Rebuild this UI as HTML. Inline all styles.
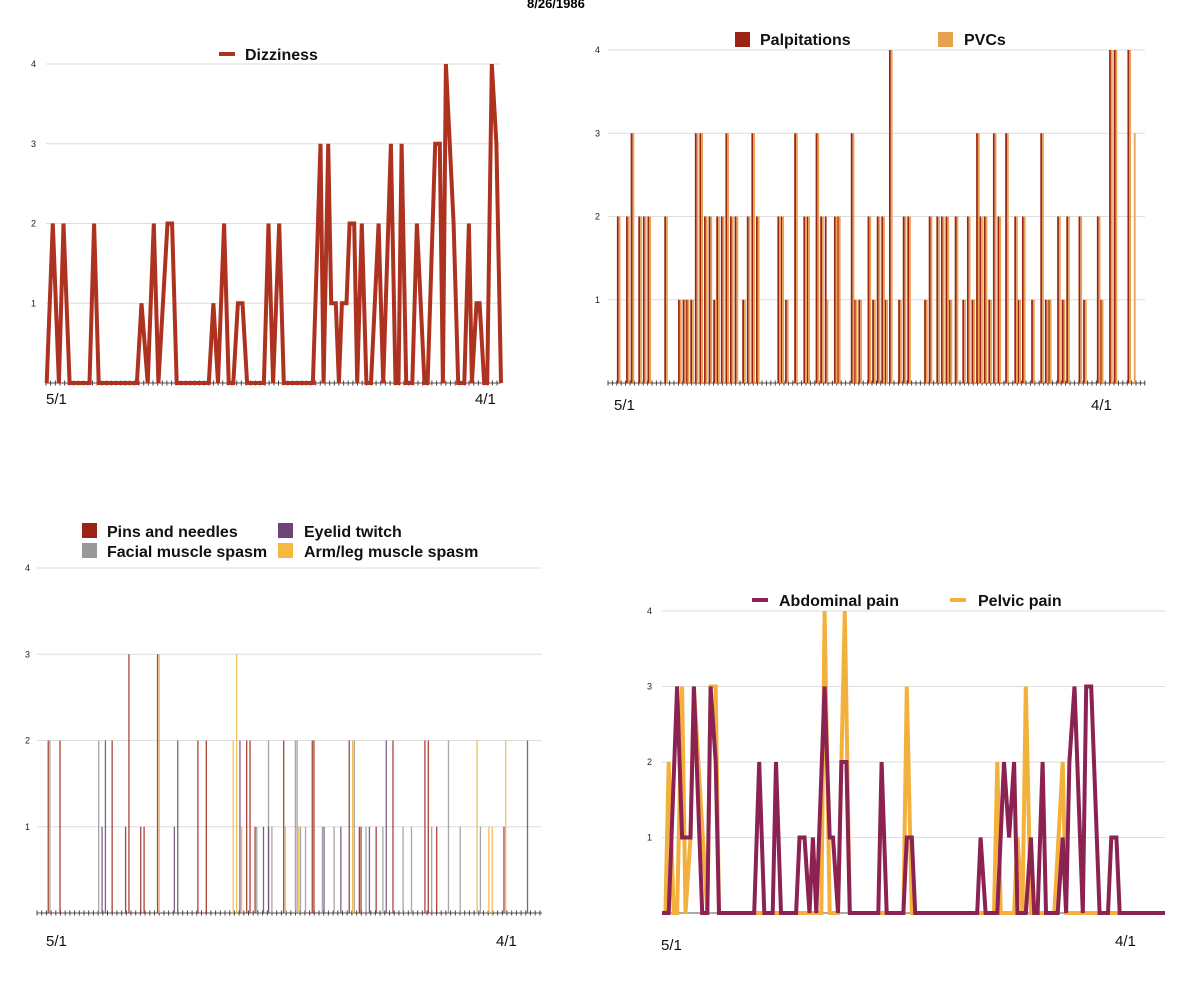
<!DOCTYPE html>
<html><head><meta charset="utf-8"><style>
html,body{margin:0;padding:0;background:#fff;}
svg{display:block;font-family:"Liberation Sans",Arial,sans-serif;}
.tk{font-size:9px;fill:#222;}
.xl{font-size:15px;fill:#111;}
.lg{font-size:16px;font-weight:bold;fill:#111;}
</style></head><body>
<svg id="root" width="1200" height="986" viewBox="0 0 1200 986">
<text x="527" y="8" font-size="13" font-weight="bold">8/26/1986</text>
<!-- legends -->
<g>
<line x1="219" y1="54" x2="235" y2="54" stroke="#ad321f" stroke-width="4"/>
<text x="245" y="60" class="lg">Dizziness</text></g>
<g>
<rect x="735" y="32" width="15" height="15" fill="#9c2416"/><text x="760" y="45" class="lg">Palpitations</text>
<rect x="938" y="32" width="15" height="15" fill="#e5a350"/><text x="964" y="45" class="lg">PVCs</text></g>
<g>
<rect x="82" y="523" width="15" height="15" fill="#9c2416"/><text x="107" y="537" class="lg">Pins and needles</text>
<rect x="278" y="523" width="15" height="15" fill="#6e4379"/><text x="304" y="537" class="lg">Eyelid twitch</text>
<rect x="82" y="543" width="15" height="15" fill="#999"/><text x="107" y="557" class="lg">Facial muscle spasm</text>
<rect x="278" y="543" width="15" height="15" fill="#f5b940"/><text x="304" y="557" class="lg">Arm/leg muscle spasm</text></g>
<g>
<line x1="752" y1="600" x2="768" y2="600" stroke="#8b2252" stroke-width="4"/><text x="779" y="606" class="lg">Abdominal pain</text>
<line x1="950" y1="600" x2="966" y2="600" stroke="#f4b03c" stroke-width="4"/><text x="978" y="606" class="lg">Pelvic pain</text></g>
</svg>
<script>
// ---- chart 1: dizziness ----
const dizDays=[0,4,8,11,15,28,31,34,59,62,66,70,73,79,82,85,106,109,112,116,119,122,125,128,131,142,145,148,152,155,174,179,181,184,186,189,191,193,196,198,201,203,206,209,212,217,220,225,228,230,232,235,239,242,247,249,254,257,259,261,266,269,273,276,278,281,283,286,288,291,294,297];
const dizVals=[0,2,0,2,0,0,2,0,0,1,0,2,0,2,2,0,0,1,0,2,0,0,1,1,0,0,2,0,2,0,0,3,0,3,1,1,0,1,1,2,2,0,2,0,0,2,0,3,0,0,3,0,0,2,0,0,3,3,0,4,2,0,0,2,0,1,1,0,0,4,3,0];
// ---- chart 2: palpitations / PVCs ----
const palpDays=[7,13,16,21,24,27,38,47,50,52,55,58,61,64,67,70,72,75,78,81,84,89,92,95,98,112,114,117,123,129,131,137,140,143,149,151,160,162,165,171,174,177,180,182,185,191,194,197,208,211,216,219,222,224,228,233,236,239,242,244,247,250,253,256,261,267,269,272,278,284,287,289,295,298,301,309,312,321,323,329,332,341,344];
const palpVals=[2,2,3,2,2,2,2,1,1,1,1,3,3,2,2,1,2,2,3,2,2,1,2,3,2,2,2,1,3,2,2,3,2,2,2,2,3,1,1,2,1,2,2,1,4,1,2,2,1,2,2,2,2,1,2,1,2,1,3,2,2,1,3,2,3,2,1,2,1,3,1,1,2,1,2,2,1,2,1,4,4,4,0];
const pvcVals=[2,2,3,2,2,2,2,1,1,1,1,3,3,2,2,1,2,2,3,2,2,1,2,3,2,2,2,1,3,2,2,3,2,1,2,2,3,1,1,2,1,2,2,1,4,1,2,2,1,2,2,2,2,1,2,1,2,1,3,2,2,1,3,2,3,2,1,2,1,3,1,1,2,1,2,2,1,2,1,4,4,4,3];
// ---- chart 3: spasms ----
const pinsDays=[6,13,44,52,54,61,63,71,95,100,124,126,129,146,163,164,185,191,192,201,211,230,232,237,277];
const pinsVals=[2,2,2,1,3,1,1,3,2,2,2,2,1,2,2,2,2,1,1,1,2,2,2,1,1];
const facialDays=[7,36,130,137,139,153,154,156,159,169,176,188,195,205,217,222,234,244,251,263];
const facialVals=[2,2,1,2,1,2,2,1,1,1,1,2,1,1,1,1,1,2,1,1];
const eyelidDays=[38,40,81,83,120,134,137,170,180,197,207,291];
const eyelidVals=[1,2,1,2,2,1,1,1,1,1,2,2];
const armDays=[72,116,118,121,147,155,187,261,268,270,278];
const armVals=[3,2,3,1,1,1,2,2,1,1,2];
// ---- chart 4: pain ----
const abdDays=[0,4,9,12,17,19,24,27,29,32,34,55,58,61,66,68,71,80,82,85,88,90,92,97,100,102,105,107,110,112,129,131,134,144,146,149,151,188,190,193,200,204,207,210,212,217,220,222,224,227,229,236,239,241,243,246,251,253,256,261,266,268,271,273,300];
const abdVals=[0,0,3,1,1,3,0,0,3,2,0,0,2,0,0,2,0,0,1,1,0,1,0,3,1,1,0,2,2,0,0,2,0,0,1,1,0,0,1,0,0,2,1,2,0,0,1,0,0,2,0,0,1,0,2,3,0,3,3,0,0,1,1,0,0];
const pelDays=[0,2,4,7,9,12,14,17,19,27,29,32,34,95,97,100,105,107,109,112,144,146,149,198,200,202,210,212,215,217,220,234,239,241,246,300];
const pelVals=[0,0,2,0,0,3,0,1,3,0,3,3,0,0,4,0,0,2,4,0,0,3,0,0,2,0,0,1,0,3,0,0,2,0,0,0];
const yTicks=["1","2","3","4"];

const NS="http://www.w3.org/2000/svg";
const root=document.getElementById('root');
function mk(tag,attrs,parent){const e=document.createElementNS(NS,tag);for(const k in attrs)e.setAttribute(k,attrs[k]);(parent||root).appendChild(e);return e;}
function lin(d0,d1,r0,r1){return v=>r0+(v-d0)/(d1-d0)*(r1-r0);}

function frame(name,x0,x1,yS,labX,tickStep,lbl){
  const g=mk('g',{});
  
  
  yTicks.forEach((t,i)=>{
    const y=yS(i+1);
    const l=mk('line',{x1:x0,x2:x1,y1:y,y2:y,stroke:'#dedede','stroke-width':1},g);
    
    
    const tx=mk('text',{x:labX,y:y+3,class:'tk','text-anchor':'end'},g);
    tx.textContent=t;
    
    
  });
  const y0=yS(0);
  mk('line',{x1:x0,x2:x1,y1:y0,y2:y0,stroke:'#555','stroke-width':1},g);
  if(tickStep){let p='';for(let x=x0;x<=x1;x+=tickStep)p+=`M${x.toFixed(1)} ${y0-2.5}V${y0+2.5}`;mk('path',{d:p,stroke:'#444','stroke-width':1},g);}
  lbl.forEach(([t,x,y],i)=>{const e=mk('text',{x:x,y:y,class:'xl'},g);e.textContent=t;
    
    });
}
function line(name,days,vals,xS,yS,color){
  const d=days.map((v,i)=>(i?'L':'M')+xS(v).toFixed(1)+' '+yS(vals[i]).toFixed(1)).join('');
  const p=mk('path',{d:d,fill:'none',stroke:color,'stroke-width':4,'stroke-linejoin':'miter','stroke-miterlimit':10});
  
  
}
function sticks(name,days,vals,xS,yS,color,w,off,op){
  const g=mk('g',{});
  
  
  days.forEach((v,i)=>{if(!vals[i])return;
    const r=mk('rect',{x:xS(v)+off,y:yS(vals[i]),width:w,height:yS(0)-yS(vals[i]),fill:color,opacity:op},g);
    
    });
}
// chart 1
{const xS=lin(0,297,46.7,501),yS=lin(0,4,383,64);
 frame('dizziness',46,501,yS,36,4.65,[['5/1',46,404],['4/1',475,404]]);
 line('dizziness-line',dizDays,dizVals,xS,yS,'#ad321f');}
// chart 2
{const xS=lin(0,350,608,1143),yS=lin(0,4,383,50);
 frame('palpitations',608,1145,yS,600,4.4,[['5/1',614,410],['4/1',1091,410]]);
 sticks('palpitations-bars',palpDays,palpVals,xS,yS,'#9c2416',1.8,-1.8,1);
 sticks('pvc-bars',palpDays,pvcVals,xS,yS,'#e8a355',1.8,0,1);}
// chart 3
{const xS=lin(0,300,37.5,542),yS=lin(0,4,913,568);
 frame('spasm',37,542,yS,30,4.7,[['5/1',46,946],['4/1',496,946]]);
 sticks('facial-spasm-bars',facialDays,facialVals,xS,yS,'#8a8a8a',1.3,0,0.75);
 sticks('eyelid-twitch-bars',eyelidDays,eyelidVals,xS,yS,'#6e4379',1.3,0,0.85);
 sticks('arm-leg-spasm-bars',armDays,armVals,xS,yS,'#f2b33c',1.3,0,0.85);
 sticks('pins-needles-bars',pinsDays,pinsVals,xS,yS,'#9c2416',1.3,0,0.85);}
// chart 4
{const xS=lin(0,300,662,1165),yS=lin(0,4,913,611);
 frame('pain',662,1165,yS,652,0,[['5/1',661,950],['4/1',1115,946]]);
 line('pelvic-pain-line',pelDays,pelVals,xS,yS,'#f4b03c');
 line('abdominal-pain-line',abdDays,abdVals,xS,yS,'#8b2252');}
</script>
</body></html>
